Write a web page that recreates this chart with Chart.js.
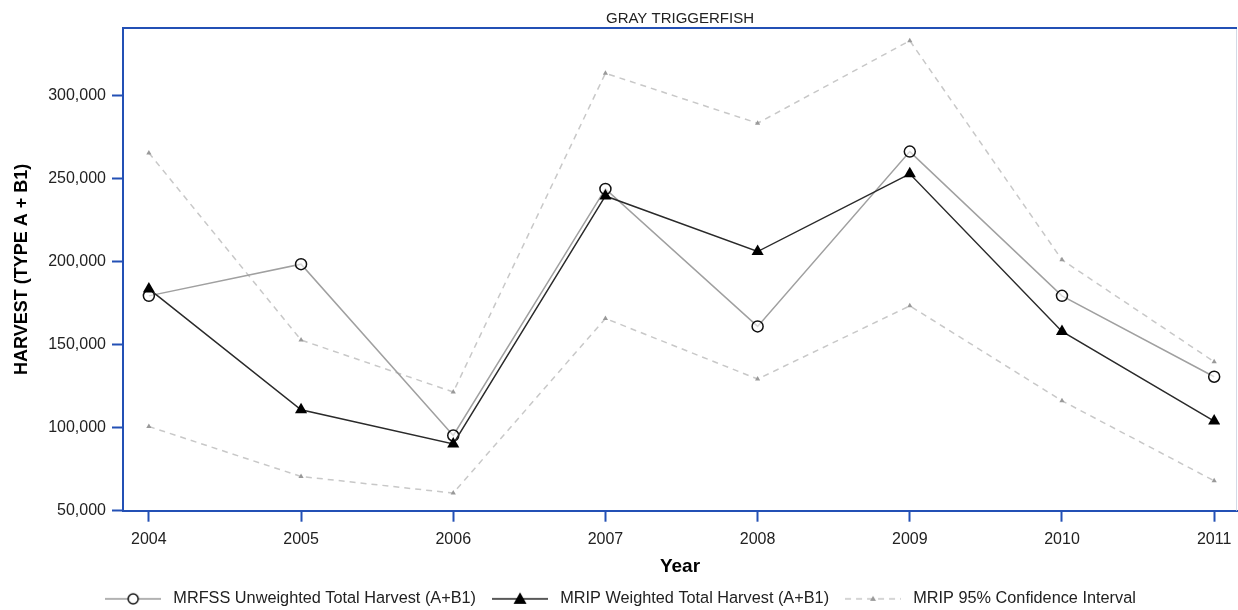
<!DOCTYPE html>
<html>
<head>
<meta charset="utf-8">
<script src="https://cdn.jsdelivr.net/npm/chart.js@4.4.1/dist/chart.umd.min.js"></script>
<style>
  html, body { margin: 0; padding: 0; background: #fff; }
  #wrap { width: 1238px; height: 610px; }
</style>
</head>
<body>
<div id="wrap"><canvas id="myChart" width="1238" height="610"></canvas></div>
<script>
// data
const years = [2004, 2005, 2006, 2007, 2008, 2009, 2010, 2011];
const mrfss = [179400, 198500, 95300, 243800, 161000, 266300, 179400, 130700];
const mrip = [183600, 110800, 90200, 239600, 206100, 252900, 158000, 104000];
const ciUpper = [265500, 152800, 121500, 313500, 283400, 333100, 201100, 139700];
const ciLower = [100700, 70600, 60600, 165800, 129300, 173400, 116200, 68000];
const yTicks = [50000, 100000, 150000, 200000, 250000, 300000];

const BLUE = '#2350b5';
const FONT = 'Liberation Sans';

function toPoints(values) {
    return years.map((year, i) => ({ x: year, y: values[i] }));
}

// small legend pictures: line with the marker in the middle
function legendSample(lineColor, dash, drawMarker) {
    const c = document.createElement('canvas');
    c.width = 56;
    c.height = 16;
    const ctx = c.getContext('2d');
    ctx.strokeStyle = lineColor;
    ctx.lineWidth = 1.5;
    ctx.setLineDash(dash);
    ctx.beginPath();
    ctx.moveTo(0, 8);
    ctx.lineTo(56, 8);
    ctx.stroke();
    ctx.setLineDash([]);
    drawMarker(ctx);
    return c;
}

const sampleCircle = legendSample('#999', [], ctx => {
    ctx.fillStyle = '#fff';
    ctx.strokeStyle = '#111';
    ctx.lineWidth = 1.5;
    ctx.beginPath();
    ctx.arc(28, 8, 5, 0, Math.PI * 2);
    ctx.fill();
    ctx.stroke();
});
const sampleTriangle = legendSample('#222', [], ctx => {
    ctx.fillStyle = '#000';
    ctx.beginPath();
    ctx.moveTo(28, 1.5);
    ctx.lineTo(34.5, 13);
    ctx.lineTo(21.5, 13);
    ctx.closePath();
    ctx.fill();
});
const sampleCI = legendSample('#c8c8c8', [6, 5], ctx => {
    ctx.fillStyle = '#999';
    ctx.beginPath();
    ctx.moveTo(28, 5);
    ctx.lineTo(31, 10);
    ctx.lineTo(25, 10);
    ctx.closePath();
    ctx.fill();
});
const legendSamples = [sampleCircle, sampleTriangle, sampleCI];

// top and right edges of the plot frame
const frameBorder = {
    id: 'frameBorder',
    afterDraw(chart) {
        const { ctx, chartArea: a } = chart;
        ctx.save();
        ctx.strokeStyle = '#d4dae6';
        ctx.lineWidth = 1;
        ctx.beginPath();
        ctx.moveTo(a.right - 0.5, a.top);
        ctx.lineTo(a.right - 0.5, a.bottom);
        ctx.stroke();
        ctx.strokeStyle = BLUE;
        ctx.lineWidth = 2;
        ctx.beginPath();
        ctx.moveTo(a.left, a.top);
        ctx.lineTo(a.right, a.top);
        ctx.stroke();
        ctx.restore();
    }
};

// keep the x labels from pushing the plot area in
function noSidePadding(scale) {
    scale.paddingLeft = 0;
    scale.paddingRight = 0;
}

Chart.defaults.font.family = FONT;
Chart.defaults.color = '#222';

new Chart(document.getElementById('myChart'), {
    type: 'line',
    data: {
        datasets: [
            {
                label: 'MRFSS Unweighted Total Harvest (A+B1)',
                data: toPoints(mrfss),
                borderColor: '#a0a0a0',
                borderWidth: 1.5,
                pointStyle: 'circle',
                pointRadius: 5.5,
                pointBorderWidth: 1.5,
                pointBorderColor: '#111',
                pointBackgroundColor: 'rgba(255,255,255,0.6)',
                order: 2
            },
            {
                label: 'MRIP Weighted Total Harvest (A+B1)',
                data: toPoints(mrip),
                borderColor: '#2a2a2a',
                borderWidth: 1.5,
                pointStyle: 'triangle',
                pointRadius: 7,
                pointBorderWidth: 0,
                pointBackgroundColor: '#000',
                order: 1
            },
            {
                label: 'MRIP 95% Confidence Interval',
                data: toPoints(ciUpper),
                borderColor: '#c8c8c8',
                borderWidth: 1.5,
                borderDash: [6, 5],
                pointStyle: 'triangle',
                pointRadius: 3,
                pointBorderWidth: 0,
                pointBackgroundColor: '#999',
                order: 3
            },
            {
                label: 'MRIP 95% Confidence Interval (lower)',
                data: toPoints(ciLower),
                borderColor: '#c8c8c8',
                borderWidth: 1.5,
                borderDash: [6, 5],
                pointStyle: 'triangle',
                pointRadius: 3,
                pointBorderWidth: 0,
                pointBackgroundColor: '#999',
                order: 3
            }
        ]
    },
    options: {
        responsive: false,
        animation: false,
        layout: { autoPadding: false, padding: { left: 0, right: 1, top: 0, bottom: -7 } },
        elements: { line: { tension: 0 } },
        plugins: {
            tooltip: { enabled: false },
            title: {
                display: true,
                text: 'GRAY TRIGGERFISH',
                fullSize: false,
                color: '#222',
                font: { family: FONT, size: 15, weight: 'normal', lineHeight: 1.2 },
                padding: { top: 10, bottom: 0 }
            },
            legend: {
                position: 'bottom',
                labels: {
                    usePointStyle: true,
                    pointStyleWidth: 64,
                    padding: 12,
                    color: '#222',
                    font: { family: FONT, size: 16.3 },
                    generateLabels(chart) {
                        return chart.data.datasets.slice(0, 3).map((ds, i) => ({
                            text: ds.label,
                            pointStyle: legendSamples[i],
                            fillStyle: 'transparent',
                            strokeStyle: 'transparent',
                            lineWidth: 0,
                            fontColor: '#222',
                            datasetIndex: i,
                            hidden: false
                        }));
                    }
                }
            }
        },
        scales: {
            x: {
                type: 'linear',
                min: 2003.83,
                max: 2011.15,
                afterFit(scale) {
                    scale.height = 68;
                    noSidePadding(scale);
                },
                border: { color: BLUE, width: 2 },
                grid: { drawOnChartArea: false, color: BLUE, tickLength: 11, tickWidth: 2 },
                afterBuildTicks(scale) {
                    scale.ticks = years.map(v => ({ value: v }));
                },
                ticks: {
                    padding: 8,
                    color: '#222',
                    font: { family: FONT, size: 16 },
                    callback: v => String(v)
                },
                title: {
                    display: true,
                    text: 'Year',
                    color: '#000',
                    font: { family: FONT, size: 19, weight: 'bold', lineHeight: 1.2 },
                    padding: { top: 2, bottom: 1 }
                }
            },
            y: {
                min: 50000,
                max: 340750,
                afterFit(scale) {
                    scale.width = 123;
                    scale.paddingTop = 0;
                    scale.paddingBottom = 0;
                },
                border: { color: BLUE, width: 2 },
                grid: { drawOnChartArea: false, color: BLUE, tickLength: 11, tickWidth: 2 },
                afterBuildTicks(scale) {
                    scale.ticks = yTicks.map(v => ({ value: v }));
                },
                ticks: {
                    padding: 6,
                    color: '#222',
                    font: { family: FONT, size: 16 },
                    callback: v => v.toLocaleString('en-US')
                },
                title: {
                    display: true,
                    text: 'HARVEST (TYPE A + B1)',
                    color: '#000',
                    font: { family: FONT, size: 18, weight: 'bold', lineHeight: 1.2 },
                    padding: { top: 11, bottom: 0 }
                }
            }
        }
    },
    plugins: [frameBorder]
});
</script>
</body>
</html>
